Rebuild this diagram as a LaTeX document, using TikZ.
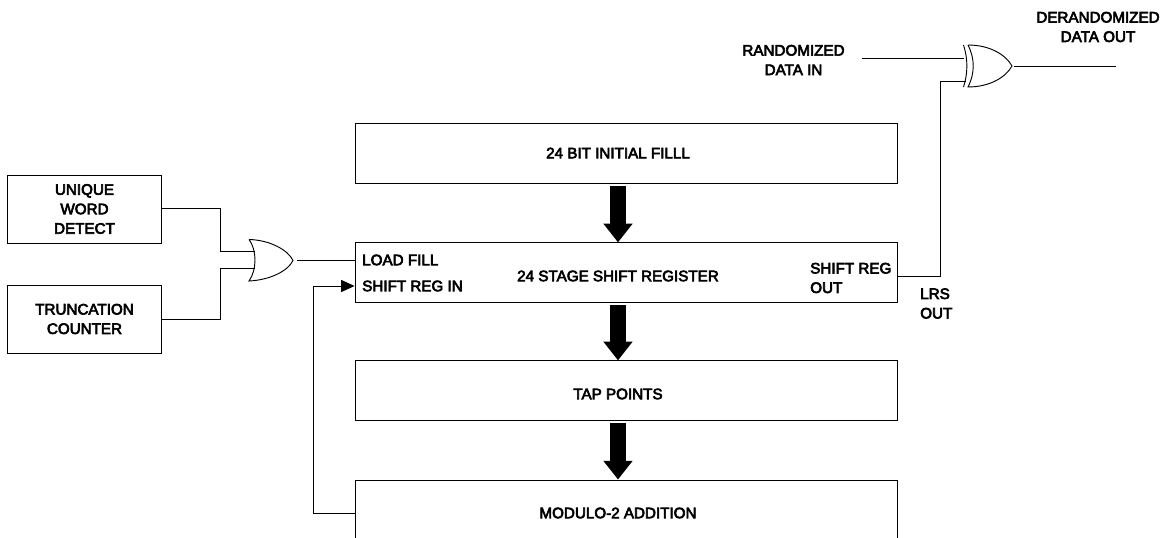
\documentclass[tikz,border=0pt]{standalone}
\usepackage{fontspec}
\newfontfamily\lblfont{Liberation Sans}[FakeBold=4]
\usetikzlibrary{arrows.meta}

\begin{document}
\begin{tikzpicture}[
  x=0.75pt, y=-0.75pt,
  lbl/.style={font=\fontsize{11.4}{14.6}\lblfont, align=center, inner sep=0pt},
  lblleft/.style={lbl, align=left, anchor=west},
  regbox/.style={draw, rectangle, line width=0.7pt, minimum width=406.5pt, minimum height=44.5pt},
  sidebox/.style={draw, rectangle, line width=0.7pt, minimum width=115pt, minimum height=51pt, lbl},
  wire/.style={line width=0.7pt},
  fatarrow/.style={-{Triangle[width=21pt,length=14pt]}, line width=12pt, shorten <=2pt}
]
\useasboundingbox (0,0) rectangle (1167,538);

\node[regbox] (fill) at (626,153.5) {};
\node[regbox] (shift) at (626,272.5) {};
\node[regbox] (tap) at (626,390.5) {};
\node[regbox, minimum height=49.5pt] (addition) at (626,513) {};

\node[lbl] (filltext) at (618,153) {24 BIT INITIAL FILLL};
\node[lbl] (stage) at (618,276) {24 STAGE SHIFT REGISTER};
\node[lbl] (taptext) at (618,394) {TAP POINTS};
\node[lbl] (addtext) at (618,513) {MODULO-2 ADDITION};
\node[lblleft] (loadfill) at (362,260) {LOAD FILL};
\node[lblleft] (regin) at (362,286) {SHIFT REG IN};
\node[lblleft] (regout) at (810,278) {SHIFT REG\\OUT};
\node[lblleft] (lrs) at (920,303.5) {LRS\\OUT};

\node[sidebox] (unique) at (84.5,209) {UNIQUE\\WORD\\DETECT};
\node[sidebox] (trunc) at (84.5,319) {TRUNCATION\\COUNTER};

\node[lbl] (datain) at (793.5,60) {RANDOMIZED\\DATA IN};
\node[lbl] (dataout) at (1098,27) {DERANDOMIZED\\DATA OUT};

% gates
\draw[wire] (249,239.5) .. controls (270,240) and (288,250) .. (293,260.5)
  .. controls (288,271) and (270,280) .. (249,281)
  .. controls (257,270) and (257,250) .. (249,239.5);
\draw[wire] (968,45) .. controls (990,45) and (1006,55) .. (1012,66)
  .. controls (1006,77) and (990,87) .. (968,87)
  .. controls (975,73) and (975,59) .. (968,45);
\draw[wire] (963.5,45) .. controls (968,59) and (968,73) .. (963.5,87);

\coordinate (orin1) at (255,251.5);
\coordinate (orin2) at (255,268);
\coordinate (orout) at (297,260);
\coordinate (xorin1) at (964,58);
\coordinate (xorin2) at (966,81.5);
\coordinate (xorout) at (1014,66);
\coordinate (inend) at (862,58);
\coordinate (outend) at (1116,66);

\draw[wire] (unique.east |- 0,208) -| (220,251.5) -- (orin1);
\draw[wire] (trunc.east) -| (220,268) -- (orin2);
\draw[wire] (orout) -- (shift.west |- orout);
\draw[wire, -{Triangle[width=9pt,length=10pt]}] (addition.west) -| (313,286) -- (shift.west |- regin);

\draw[wire] (inend) -- (xorin1);
\draw[wire] (shift.east |- stage) -| (940,81.5) -- (xorin2);
\draw[wire] (xorout) -- (outend);

\draw[fatarrow] (fill.south -| stage) -- (shift.north -| stage);
\draw[fatarrow] (shift.south -| stage) -- (tap.north -| stage);
\draw[fatarrow] (tap.south -| stage) -- (addition.north -| stage);
\end{tikzpicture}
\end{document}
